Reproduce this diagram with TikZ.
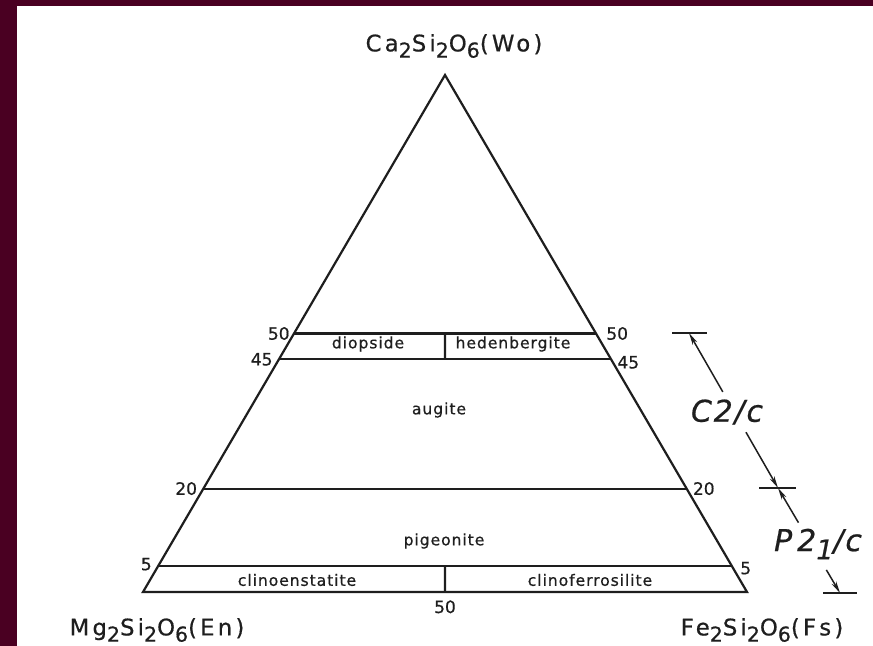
\documentclass[tikz,border=0pt]{standalone}
\usepackage{fontspec}
\setmainfont{DejaVu Sans}
\usetikzlibrary{
    arrows.meta,
    calc,
    positioning
}
\definecolor{framered}{HTML}{4A0022}
\definecolor{ink}{HTML}{1E1E1E}
\newcommand{\dn}[1]{\raisebox{-0.5ex}{\scalebox{0.9}{#1}}}
\tikzset{
    side/.style={line width=1.1pt, draw=ink, line join=miter},
    tie/.style={line width=1.1pt, draw=ink},
    tick/.style={line width=0.9pt, draw=ink},
    rangearrow/.style={-{Stealth[length=6pt, width=2.6pt]}, line width=0.75pt, draw=ink},
    endmember/.style={font=\fontsize{11.4}{13}\selectfont\addfontfeature{LetterSpace=14, FakeBold=0.6}, text=ink, inner sep=0pt},
    field/.style={font=\fontsize{7.8}{9}\selectfont\addfontfeature{LetterSpace=6, FakeBold=0.6}, text=ink, inner sep=0pt},
    num/.style={font=\fontsize{8.5}{10}\selectfont\addfontfeature{FakeBold=0.6}, text=ink, inner sep=0pt},
    group/.style={font=\fontsize{15}{17}\selectfont\itshape\addfontfeature{LetterSpace=6, FakeBold=0.6}, text=ink, inner sep=0pt}
}

\begin{document}
\begin{tikzpicture}[x=0.5pt, y=-0.5pt]
    \useasboundingbox (0,0) rectangle (873,646);
    \fill[framered] (0,0) rectangle (873,646);
    \fill[white] (17,6) rectangle (873,646);

    \coordinate (En) at (143,592);
    \coordinate (Fs) at (747,592);
    \coordinate (Wo) at (445,75);
    \draw[side] (En) -- (Fs) -- (Wo) -- cycle;

    \foreach \f/\n in {0.5/50, 0.45/45, 0.2/20, 0.05/5} {
        \coordinate (L\n) at ($(En)!\f!(Wo)$);
        \coordinate (R\n) at ($(Fs)!\f!(Wo)$);
        \draw[tie] (L\n) -- (R\n);
    }
    \draw[tie] ($(L50)!0.5!(R50)$) -- ($(L45)!0.5!(R45)$);
    \draw[tie] ($(En)!0.5!(Fs)$) -- ($(L5)!0.5!(R5)$);

    \node[num, left=2pt of L50] (l50) {50};
    \node[num, right=5pt of R50] (r50) {50};
    \node[num, left=3pt of L45] (l45) {45};
    \node[num, right=3pt of R45, yshift=-1.5pt] (r45) {45};
    \node[num, left=3pt of L20] (l20) {20};
    \node[num, right=3pt of R20] (r20) {20};
    \node[num, left=3pt of L5, yshift=1pt] (l5) {5};
    \node[num, right=4pt of R5, yshift=-1pt] (r5) {5};
    \node[num, below=4pt of {$(En)!0.5!(Fs)$}] (b50) {50};

    \node[field] (diop) at (368,344) {diopside};
    \node[field] (hed) at (513,344) {hedenbergite};
    \node[field] (aug) at (439,410) {augite};
    \node[field] (pig) at (444,541) {pigeonite};
    \node[field] (cen) at (297,580) {clinoenstatite};
    \node[field] (cfs) at (590,580) {clinoferrosilite};

    \node[endmember] (wo) at (454,46) {Ca\dn{2}Si\dn{2}O\dn{6}(Wo)};
    \node[endmember] (en) at (157,630) {Mg\dn{2}Si\dn{2}O\dn{6}(En)};
    \node[endmember] (fs) at (762,630) {Fe\dn{2}Si\dn{2}O\dn{6}(Fs)};

    \coordinate (ctop) at (689,333);
    \coordinate (cmid) at (778,488);
    \coordinate (cbot) at (840,593);
    \draw[tick] ($(ctop)+(-17,0)$) -- ($(ctop)+(18,0)$);
    \draw[tick] ($(cmid)+(-19,0)$) -- ($(cmid)+(18,0)$);
    \draw[tick] ($(cbot)+(-17,0)$) -- ($(cbot)+(17,0)$);
    \draw[rangearrow] ($(ctop)!0.38!(cmid)$) -- (ctop);
    \draw[rangearrow] ($(ctop)!0.64!(cmid)$) -- (cmid);
    \draw[rangearrow] ($(cmid)!0.33!(cbot)$) -- (cmid);
    \draw[rangearrow] ($(cmid)!0.78!(cbot)$) -- (cbot);
    \node[group] (c2c) at (727,412) {C2/c};
    \node[group] (p21c) at (818,544) {P\,2\dn{1}/c};
\end{tikzpicture}
\end{document}
